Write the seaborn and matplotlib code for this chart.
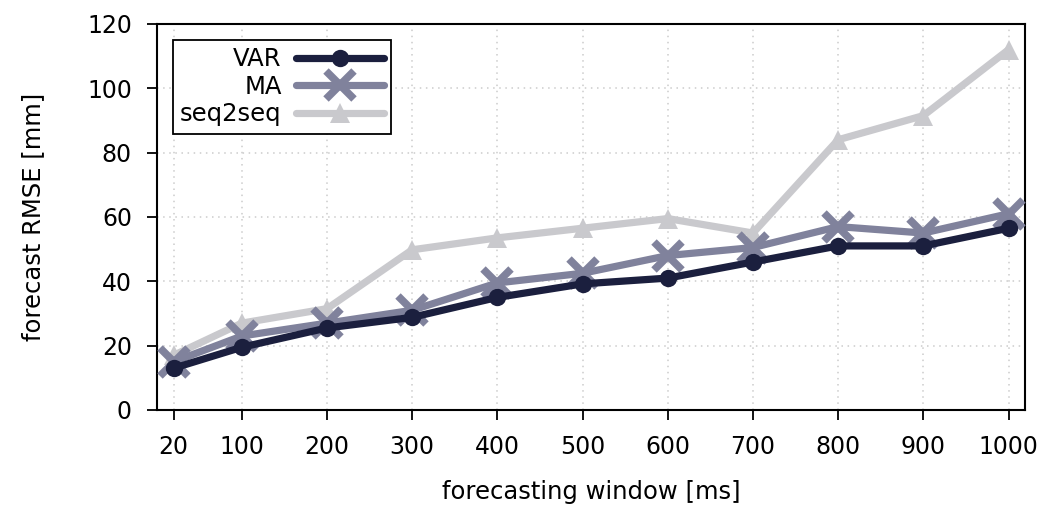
import matplotlib
matplotlib.use("Agg")
import matplotlib.pyplot as plt
import seaborn as sns
import pandas as pd

windows = [20, 100, 200, 300, 400, 500, 600, 700, 800, 900, 1000]
var_rmse = [13, 19.5, 25.5, 28.8, 35, 39.2, 41, 46, 51, 51, 56.5]
ma_rmse = [15, 23, 27, 31, 39.5, 42.5, 48, 50.5, 57, 55, 61]
seq_rmse = [17, 27, 31.5, 49.8, 53.5, 56.5, 59.5, 55, 84, 91.5, 112]
methods = ["VAR", "MA", "seq2seq"]
yticks = [0, 20, 40, 60, 80, 100, 120]

rows = []
for m, vals in zip(methods, [var_rmse, ma_rmse, seq_rmse]):
    for w, v in zip(windows, vals):
        rows.append({"window": w, "rmse": v, "method": m})
df = pd.DataFrame(rows)

sns.set_style("white")
plt.rcParams['font.family'] = ['DejaVu Sans']
plt.rcParams['text.color'] = 'black'
plt.rcParams['axes.labelcolor'] = 'black'

fig = plt.figure(figsize=(10.43, 5.09), dpi=100)
ax = fig.add_axes([0.1505, 0.1945, 0.8325, 0.7585])

palette = {"VAR": "#1b1f3e", "MA": "#80829c", "seq2seq": "#c9c9cd"}

styles = {
    "VAR": dict(marker="o", ms=12.5, mew=0, z=5),
    "MA": dict(marker="x", ms=20, mew=5.5, z=4),
    "seq2seq": dict(marker="^", ms=15, mew=0, z=3),
}
for m in methods:
    sub = df[df["method"] == m]
    sns.lineplot(data=sub, x="window", y="rmse", ax=ax, color=palette[m],
                 label=m)
    line = ax.lines[-1]
    st = styles[m]
    line.set_linestyle("-")
    line.set_linewidth(5.2)
    line.set_marker(st["marker"])
    line.set_markersize(st["ms"])
    line.set_markeredgewidth(st["mew"])
    line.set_markeredgecolor(palette[m])
    line.set_markerfacecolor(palette[m])
    line.set_zorder(st["z"])

ax.set_xticks(windows)
ax.set_yticks(yticks)
ax.set_ylim(0, 120)
ax.set_xlim(0.4, 1019.6)
ax.grid(True, linestyle=(0, (1, 3)), color="#cccccc", linewidth=1.1)
for s in ax.spines.values():
    s.set_color("black")
    s.set_linewidth(1.5)
ax.tick_params(axis="both", which="both", direction="out", length=7, width=1.3,
               labelsize=17, colors="black", pad=11, left=True, bottom=True)
ax.set_xlabel("forecasting window [ms]", fontsize=17.5, labelpad=15)
ax.set_ylabel("forecast RMSE [mm]", fontsize=17.5, labelpad=30)

leg = ax.legend(loc="upper left", markerfirst=False, fontsize=17.5, frameon=True,
                fancybox=False, edgecolor="black", borderpad=0.3,
                handlelength=3.6, labelspacing=0.15, handletextpad=0.6,
                borderaxespad=0.65)
leg.get_frame().set_linewidth(1.3)
leg.get_frame().set_alpha(1)

fig.savefig("out.png", dpi=100)
